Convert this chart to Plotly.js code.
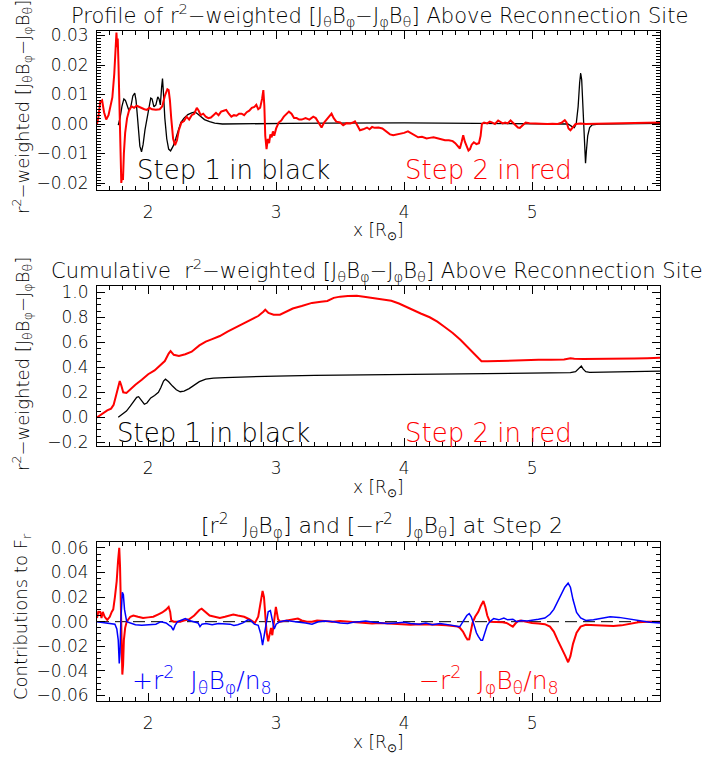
<!DOCTYPE html>
<html>
<head>
<meta charset="utf-8">
<script src="https://cdn.plot.ly/plotly-3.0.1.min.js"></script>
<style>html,body{margin:0;padding:0;background:#fff;}#chart{width:705px;height:757px;}</style>
</head>
<body>
<div id="chart"></div>
<script>
// ---------- Panel 1: profile (Step 1 black, Step 2 red) ----------
const p1RedX = [1.600,1.610,1.625,1.640,1.655,1.672,1.690,1.705,1.720,1.735,1.745,1.752,1.758,1.762,1.768,1.775,1.782,1.790,1.797,1.803,1.810,1.820,1.835,1.850,1.870,1.890,1.910,1.930,1.950,1.970,1.990,2.010,2.030,2.060,2.090,2.110,2.130,2.150,2.160,2.170,2.180,2.195,2.210,2.225,2.240,2.260,2.280,2.300,2.320,2.340,2.360,2.380,2.395,2.410,2.430,2.450,2.470,2.490,2.510,2.530,2.550,2.570,2.590,2.610,2.630,2.650,2.670,2.690,2.710,2.730,2.750,2.770,2.790,2.810,2.830,2.845,2.860,2.875,2.890,2.900,2.908,2.915,2.925,2.935,2.945,2.955,2.965,2.975,2.985,3.000,3.020,3.040,3.060,3.080,3.100,3.120,3.140,3.160,3.180,3.200,3.230,3.260,3.290,3.310,3.330,3.355,3.375,3.400,3.420,3.433,3.450,3.470,3.500,3.524,3.550,3.580,3.600,3.616,3.635,3.655,3.680,3.710,3.730,3.750,3.770,3.800,3.830,3.860,3.890,3.915,3.940,3.970,4.000,4.030,4.050,4.080,4.110,4.140,4.176,4.200,4.230,4.260,4.290,4.320,4.350,4.380,4.400,4.420,4.436,4.450,4.462,4.475,4.490,4.503,4.515,4.528,4.545,4.565,4.585,4.598,4.608,4.625,4.650,4.670,4.690,4.710,4.735,4.750,4.770,4.790,4.810,4.832,4.850,4.870,4.890,4.905,4.925,4.950,4.980,5.010,5.050,5.080,5.120,5.160,5.200,5.230,5.256,5.270,5.285,5.300,5.320,5.340,5.380,5.420,5.500,5.600,5.700,5.800,5.900,6.000];
const p1RedY = [0.0000,0.0020,0.0075,0.0080,0.0040,0.0015,0.0030,0.0060,0.0090,0.0170,0.0250,0.0310,0.0260,0.0290,0.0200,0.0050,-0.0120,-0.0200,-0.0170,-0.0190,-0.0100,-0.0030,0.0020,0.0045,0.0060,0.0055,0.0062,0.0058,0.0052,0.0050,0.0048,0.0055,0.0050,0.0048,0.0050,0.0060,0.0095,0.0118,0.0115,0.0080,0.0020,-0.0050,-0.0072,-0.0055,-0.0020,0.0005,0.0010,0.0025,0.0015,0.0030,0.0035,0.0055,0.0045,0.0030,0.0035,0.0025,0.0020,0.0022,0.0030,0.0038,0.0030,0.0042,0.0045,0.0048,0.0035,0.0025,0.0030,0.0028,0.0035,0.0035,0.0030,0.0040,0.0045,0.0055,0.0058,0.0065,0.0050,0.0055,0.0085,0.0115,0.0060,-0.0040,-0.0085,-0.0050,-0.0065,-0.0035,-0.0045,-0.0025,-0.0040,-0.0015,0.0005,0.0012,0.0025,0.0032,0.0042,0.0035,0.0020,0.0020,0.0015,0.0015,0.0020,0.0015,0.0025,0.0020,0.0005,-0.0012,0.0005,0.0018,0.0025,0.0035,0.0020,0.0008,0.0005,-0.0004,0.0003,0.0002,0.0005,0.0009,-0.0005,-0.0021,-0.0018,-0.0012,-0.0018,-0.0010,-0.0013,-0.0012,-0.0015,-0.0025,-0.0035,-0.0038,-0.0036,-0.0033,-0.0030,-0.0025,-0.0030,-0.0038,-0.0045,-0.0043,-0.0049,-0.0047,-0.0045,-0.0048,-0.0052,-0.0055,-0.0055,-0.0058,-0.0065,-0.0075,-0.0083,-0.0060,-0.0038,-0.0060,-0.0075,-0.0090,-0.0085,-0.0070,-0.0062,-0.0068,-0.0065,-0.0040,0.0000,0.0005,0.0002,0.0008,0.0005,0.0000,0.0012,0.0008,0.0002,0.0005,0.0002,0.0012,0.0005,-0.0005,-0.0012,-0.0013,-0.0005,0.0005,0.0003,0.0002,0.0000,-0.0001,0.0000,0.0001,0.0000,0.0004,0.0013,0.0005,-0.0015,-0.0021,-0.0010,0.0000,0.0002,0.0000,0.0001,0.0002,0.0001,0.0002,0.0003,0.0005];

const p1BlackX = [1.766,1.780,1.795,1.810,1.822,1.835,1.850,1.865,1.880,1.895,1.905,1.915,1.925,1.935,1.948,1.960,1.975,1.990,2.005,2.020,2.030,2.045,2.060,2.075,2.085,2.095,2.105,2.112,2.120,2.130,2.145,2.160,2.175,2.195,2.215,2.235,2.255,2.280,2.310,2.340,2.365,2.385,2.410,2.440,2.480,2.520,2.580,2.700,2.900,3.100,3.400,3.700,4.000,4.300,4.600,4.900,5.150,5.280,5.310,5.330,5.345,5.360,5.372,5.380,5.388,5.396,5.405,5.412,5.418,5.425,5.435,5.450,5.470,5.520,5.700,6.000];
const p1BlackY = [-0.0004,0.0020,0.0060,0.0085,0.0080,0.0060,0.0045,0.0060,0.0095,0.0105,0.0080,0.0030,-0.0030,-0.0075,-0.0094,-0.0070,-0.0020,0.0020,0.0060,0.0088,0.0085,0.0058,0.0065,0.0092,0.0085,0.0065,0.0125,0.0154,0.0100,0.0020,-0.0050,-0.0085,-0.0091,-0.0075,-0.0050,-0.0020,0.0005,0.0020,0.0032,0.0038,0.0041,0.0035,0.0025,0.0015,0.0008,0.0003,0.0000,0.0000,0.0001,0.0002,0.0003,0.0004,0.0004,0.0003,0.0002,0.0001,0.0000,0.0000,-0.0008,-0.0012,0.0000,0.0058,0.0140,0.0173,0.0150,0.0060,0.0000,-0.0100,-0.0133,-0.0090,-0.0040,-0.0012,-0.0003,0.0000,0.0001,0.0002];

// ---------- Panel 2: cumulative ----------
const p2RedX = [1.600,1.640,1.680,1.710,1.730,1.748,1.765,1.778,1.790,1.805,1.830,1.860,1.900,1.950,2.000,2.050,2.100,2.130,2.160,2.175,2.200,2.240,2.290,2.340,2.400,2.450,2.500,2.560,2.620,2.680,2.740,2.800,2.860,2.900,2.915,2.940,2.980,3.030,3.080,3.130,3.200,3.280,3.350,3.400,3.450,3.500,3.560,3.630,3.700,3.780,3.850,3.900,3.960,4.020,4.070,4.130,4.200,4.260,4.320,4.380,4.440,4.500,4.560,4.605,4.650,4.700,4.750,4.850,4.950,5.050,5.150,5.250,5.300,5.330,5.400,5.500,5.600,5.700,5.800,5.900,6.000];
const p2RedY = [0.000,0.030,0.055,0.070,0.100,0.170,0.240,0.290,0.255,0.200,0.195,0.225,0.260,0.300,0.345,0.375,0.420,0.450,0.510,0.530,0.500,0.490,0.505,0.525,0.575,0.605,0.625,0.650,0.685,0.715,0.745,0.775,0.810,0.845,0.860,0.835,0.820,0.820,0.845,0.870,0.890,0.915,0.925,0.930,0.955,0.965,0.970,0.972,0.962,0.952,0.940,0.932,0.910,0.880,0.855,0.830,0.800,0.765,0.720,0.675,0.620,0.560,0.500,0.448,0.448,0.450,0.453,0.456,0.460,0.460,0.461,0.463,0.473,0.468,0.466,0.466,0.468,0.469,0.471,0.473,0.476];

const p2BlackX = [1.766,1.800,1.830,1.860,1.884,1.910,1.925,1.945,1.970,1.990,2.020,2.050,2.080,2.100,2.120,2.135,2.160,2.190,2.220,2.250,2.280,2.320,2.360,2.400,2.450,2.510,2.600,2.800,3.000,3.300,3.600,4.000,4.500,4.800,5.100,5.300,5.340,5.370,5.385,5.400,5.420,5.450,5.600,5.800,6.000];
const p2BlackY = [0.000,0.025,0.050,0.090,0.120,0.160,0.165,0.135,0.105,0.115,0.155,0.175,0.200,0.240,0.290,0.305,0.285,0.250,0.220,0.205,0.210,0.230,0.255,0.285,0.305,0.313,0.318,0.326,0.330,0.336,0.340,0.345,0.350,0.353,0.355,0.357,0.365,0.400,0.410,0.385,0.365,0.360,0.362,0.365,0.370];

// ---------- Panel 3: contributions at Step 2 ----------
const p3RedX = [1.600,1.610,1.625,1.635,1.645,1.660,1.680,1.700,1.715,1.727,1.740,1.754,1.765,1.774,1.780,1.786,1.792,1.798,1.804,1.810,1.820,1.832,1.860,1.884,1.920,1.960,2.000,2.040,2.080,2.110,2.140,2.160,2.172,2.180,2.200,2.250,2.280,2.320,2.360,2.400,2.418,2.440,2.480,2.520,2.560,2.600,2.640,2.665,2.700,2.750,2.790,2.820,2.834,2.860,2.880,2.894,2.905,2.915,2.925,2.938,2.950,2.960,2.970,2.985,2.998,3.005,3.015,3.030,3.080,3.130,3.170,3.200,3.240,3.280,3.320,3.380,3.440,3.500,3.560,3.620,3.700,3.750,3.810,3.870,3.930,3.990,4.050,4.130,4.200,4.260,4.330,4.380,4.420,4.436,4.460,4.480,4.495,4.509,4.520,4.535,4.555,4.580,4.600,4.620,4.635,4.650,4.670,4.720,4.770,4.800,4.830,4.850,4.870,4.890,4.910,4.950,5.000,5.050,5.100,5.140,5.170,5.200,5.230,5.256,5.282,5.300,5.320,5.348,5.380,5.420,5.500,5.580,5.636,5.700,5.760,5.830,5.900,6.000];
const p3RedY = [0.0030,0.0080,0.0079,0.0030,0.0080,0.0040,0.0015,0.0040,0.0080,0.0100,0.0200,0.0330,0.0500,0.0600,0.0450,0.0100,-0.0250,-0.0430,-0.0350,-0.0150,-0.0050,0.0000,0.0040,0.0050,0.0040,0.0030,0.0035,0.0040,0.0060,0.0075,0.0098,0.0120,0.0080,0.0010,0.0000,0.0000,0.0010,0.0020,0.0050,0.0095,0.0106,0.0085,0.0050,0.0040,0.0030,0.0040,0.0055,0.0058,0.0050,0.0040,0.0020,0.0000,-0.0010,0.0040,0.0150,0.0250,0.0200,0.0030,-0.0080,-0.0160,-0.0100,-0.0050,-0.0110,0.0000,0.0120,0.0080,0.0020,0.0000,0.0010,0.0020,0.0025,0.0010,0.0000,0.0000,0.0010,0.0005,0.0000,0.0005,0.0000,-0.0005,-0.0010,-0.0015,-0.0010,-0.0015,-0.0020,-0.0020,-0.0025,-0.0020,-0.0020,-0.0025,-0.0030,-0.0035,-0.0040,-0.0050,-0.0080,-0.0120,-0.0145,-0.0144,-0.0080,-0.0010,0.0040,0.0080,0.0130,0.0168,0.0120,0.0050,0.0000,0.0000,-0.0005,-0.0010,-0.0025,-0.0040,-0.0015,0.0005,0.0010,0.0000,-0.0010,-0.0015,-0.0020,-0.0040,-0.0080,-0.0150,-0.0210,-0.0270,-0.0330,-0.0280,-0.0180,-0.0090,-0.0040,-0.0025,-0.0030,-0.0035,-0.0036,-0.0030,-0.0020,-0.0005,0.0000,0.0000];

const p3BlueX = [1.600,1.650,1.700,1.740,1.755,1.766,1.774,1.780,1.786,1.792,1.798,1.806,1.815,1.832,1.860,1.900,1.950,2.000,2.060,2.100,2.140,2.165,2.180,2.196,2.210,2.230,2.260,2.290,2.320,2.360,2.390,2.405,2.420,2.450,2.500,2.550,2.600,2.640,2.670,2.700,2.740,2.780,2.800,2.830,2.860,2.880,2.894,2.905,2.920,2.938,2.955,2.965,2.975,2.985,3.000,3.030,3.080,3.130,3.180,3.230,3.280,3.330,3.380,3.450,3.500,3.560,3.600,3.650,3.700,3.760,3.810,3.870,3.930,3.970,4.000,4.050,4.120,4.170,4.220,4.280,4.330,4.380,4.420,4.436,4.460,4.490,4.509,4.525,4.545,4.565,4.580,4.600,4.613,4.630,4.650,4.670,4.700,4.740,4.780,4.810,4.850,4.880,4.920,4.960,5.000,5.050,5.100,5.140,5.170,5.200,5.230,5.256,5.282,5.300,5.320,5.348,5.380,5.420,5.480,5.550,5.610,5.680,5.740,5.800,5.860,5.920,6.000];
const p3BlueY = [0.0000,-0.0005,-0.0010,-0.0020,-0.0060,-0.0150,-0.0340,-0.0250,0.0000,0.0180,0.0240,0.0220,0.0100,0.0000,-0.0010,-0.0025,-0.0030,-0.0025,-0.0020,0.0000,-0.0010,-0.0030,-0.0040,-0.0069,-0.0030,0.0000,0.0010,0.0025,0.0010,0.0000,-0.0010,-0.0040,-0.0020,-0.0015,-0.0025,-0.0015,-0.0018,-0.0020,-0.0030,-0.0025,-0.0010,0.0015,0.0010,-0.0020,-0.0030,-0.0100,-0.0190,-0.0120,-0.0020,0.0080,0.0090,0.0040,-0.0030,-0.0060,-0.0020,0.0000,0.0010,0.0000,-0.0005,-0.0010,-0.0020,0.0000,0.0005,0.0000,-0.0010,-0.0015,-0.0005,0.0000,0.0005,-0.0005,-0.0010,-0.0015,-0.0010,-0.0010,-0.0005,-0.0015,-0.0020,-0.0010,-0.0025,-0.0015,-0.0020,-0.0030,-0.0040,-0.0040,0.0000,0.0050,0.0066,0.0040,-0.0020,-0.0090,-0.0120,-0.0150,-0.0150,-0.0100,-0.0030,0.0000,0.0025,0.0015,0.0030,0.0015,0.0020,0.0000,0.0010,0.0005,0.0010,0.0020,0.0030,0.0060,0.0100,0.0160,0.0220,0.0280,0.0313,0.0280,0.0180,0.0076,0.0030,0.0010,0.0015,0.0030,0.0040,0.0035,0.0025,0.0010,0.0000,-0.0005,-0.0010];

const zeroLineX = [1.6, 6.0];
const zeroLineY = [0, 0];

// tick labels
const xTickVals = [2, 3, 4, 5];
const xTickText = ['2', '3', '4', '5'];

const FONT = 'DejaVu Sans';
const FW = 200;
const RED = '#ff0000', BLUE = '#0000ff', BLACK = '#000000';

const traces = [
  {x: p1BlackX, y: p1BlackY, xaxis: 'x', yaxis: 'y', mode: 'lines', line: {color: BLACK, width: 1.3}},
  {x: p1RedX, y: p1RedY, xaxis: 'x', yaxis: 'y', mode: 'lines', line: {color: RED, width: 2}},
  {x: p2BlackX, y: p2BlackY, xaxis: 'x2', yaxis: 'y2', mode: 'lines', line: {color: BLACK, width: 1.3}},
  {x: p2RedX, y: p2RedY, xaxis: 'x2', yaxis: 'y2', mode: 'lines', line: {color: RED, width: 2}},
  {x: zeroLineX, y: zeroLineY, xaxis: 'x3', yaxis: 'y3', mode: 'lines', line: {color: BLACK, width: 1, dash: '12px,6px'}},
  {x: p3RedX, y: p3RedY, xaxis: 'x3', yaxis: 'y3', mode: 'lines', line: {color: RED, width: 2}},
  {x: p3BlueX, y: p3BlueY, xaxis: 'x3', yaxis: 'y3', mode: 'lines', line: {color: BLUE, width: 1.5}}
];

const W = 705, H = 757;
const xd = [97 / W, 660 / W];
function yd(top, bottom) { return [1 - bottom / H, 1 - top / H]; }

function xax(anchor) {
  return {
    domain: xd, anchor: anchor, range: [1.6, 6.0],
    tickvals: xTickVals, ticktext: xTickText,
    showline: true, linecolor: BLACK, linewidth: 1, mirror: 'allticks',
    ticks: 'inside', ticklen: 8, tickwidth: 1, tickcolor: BLACK,
    minor: {ticks: 'inside', ticklen: 4, dtick: 0.1, tick0: 0, tickcolor: BLACK, tickwidth: 1},
    showgrid: false, zeroline: false, ticklabelstandoff: 7,
    tickfont: {family: FONT, size: 17, color: BLACK, weight: FW}
  };
}
function yax(anchor, dom, range, dtick, fmt, mdt) {
  return {
    domain: dom, anchor: anchor, range: range, dtick: dtick, tick0: 0, tickformat: fmt,
    showline: true, linecolor: BLACK, linewidth: 1, mirror: 'allticks',
    ticks: 'inside', ticklen: 8, tickwidth: 1, tickcolor: BLACK,
    minor: {ticks: 'inside', ticklen: 4, dtick: mdt, tick0: 0, tickcolor: BLACK, tickwidth: 1},
    showgrid: false, zeroline: false, ticklabelstandoff: 4,
    tickfont: {family: FONT, size: 17, color: BLACK, weight: FW}
  };
}

const yTitle12 = 'r<sup>2</sup>−weighted [J<sub>θ</sub>B<sub>φ</sub>−J<sub>φ</sub>B<sub>θ</sub>]';
const xTitle = 'x [R<sub>⊙</sub>]';

function ann(text, px, py, size, color, angle) {
  return {text: text, x: px / W, y: 1 - py / H, xref: 'paper', yref: 'paper',
    xanchor: 'center', yanchor: 'middle', showarrow: false, textangle: angle || 0,
    font: {family: FONT, size: size, color: color || BLACK, weight: FW}};
}

const annotations = [
  ann('Profile of r<sup>2</sup>−weighted [J<sub>θ</sub>B<sub>φ</sub>−J<sub>φ</sub>B<sub>θ</sub>] Above Reconnection Site', 379, 15, 21),
  ann('Cumulative  r<sup>2</sup>−weighted [J<sub>θ</sub>B<sub>φ</sub>−J<sub>φ</sub>B<sub>θ</sub>] Above Reconnection Site', 377, 270, 21),
  ann('[r<sup>2</sup>  J<sub>θ</sub>B<sub>φ</sub>] and [−r<sup>2</sup>  J<sub>φ</sub>B<sub>θ</sub>] at Step 2', 382, 526, 22),
  ann(xTitle, 378.5, 231, 17),
  ann(xTitle, 378.5, 488, 17),
  ann(xTitle, 378.5, 743, 17),
  ann(yTitle12, 22, 107, 18, BLACK, -90),
  ann(yTitle12, 22, 364, 18, BLACK, -90),
  ann('Contributions to F<sub>r</sub>', 22, 617, 18, BLACK, -90),
  ann('Step 1 in black', 234, 170, 26, BLACK),
  ann('Step 2 in red', 488, 170, 26, RED),
  ann('Step 1 in black', 213, 433, 26, BLACK),
  ann('Step 2 in red', 488, 433, 26, RED),
  ann('+r<sup>2</sup>  J<sub>θ</sub>B<sub>φ</sub>/n<sub>8</sub>', 202, 680, 25, BLUE),
  ann('−r<sup>2</sup>  J<sub>φ</sub>B<sub>θ</sub>/n<sub>8</sub>', 489, 680, 25, RED)
];

const layout = {
  width: W, height: H, margin: {l: 0, r: 0, t: 0, b: 0},
  paper_bgcolor: '#ffffff', plot_bgcolor: '#ffffff', showlegend: false,
  font: {family: FONT, color: BLACK, weight: FW},
  xaxis: xax('y'),
  yaxis: yax('x', yd(30.5, 189.5), [-0.0222, 0.0317], 0.01, '.2f', 0.001),
  xaxis2: xax('y2'),
  yaxis2: yax('x2', yd(286, 445.5), [-0.225, 1.05], 0.2, '.1f', 0.05),
  xaxis3: xax('y3'),
  yaxis3: yax('x3', yd(542, 701), [-0.0645, 0.0648], 0.02, '.2f', 0.005),
  annotations: annotations
};

Plotly.newPlot('chart', traces, layout, {staticPlot: true, displayModeBar: false});
</script>
</body>
</html>
